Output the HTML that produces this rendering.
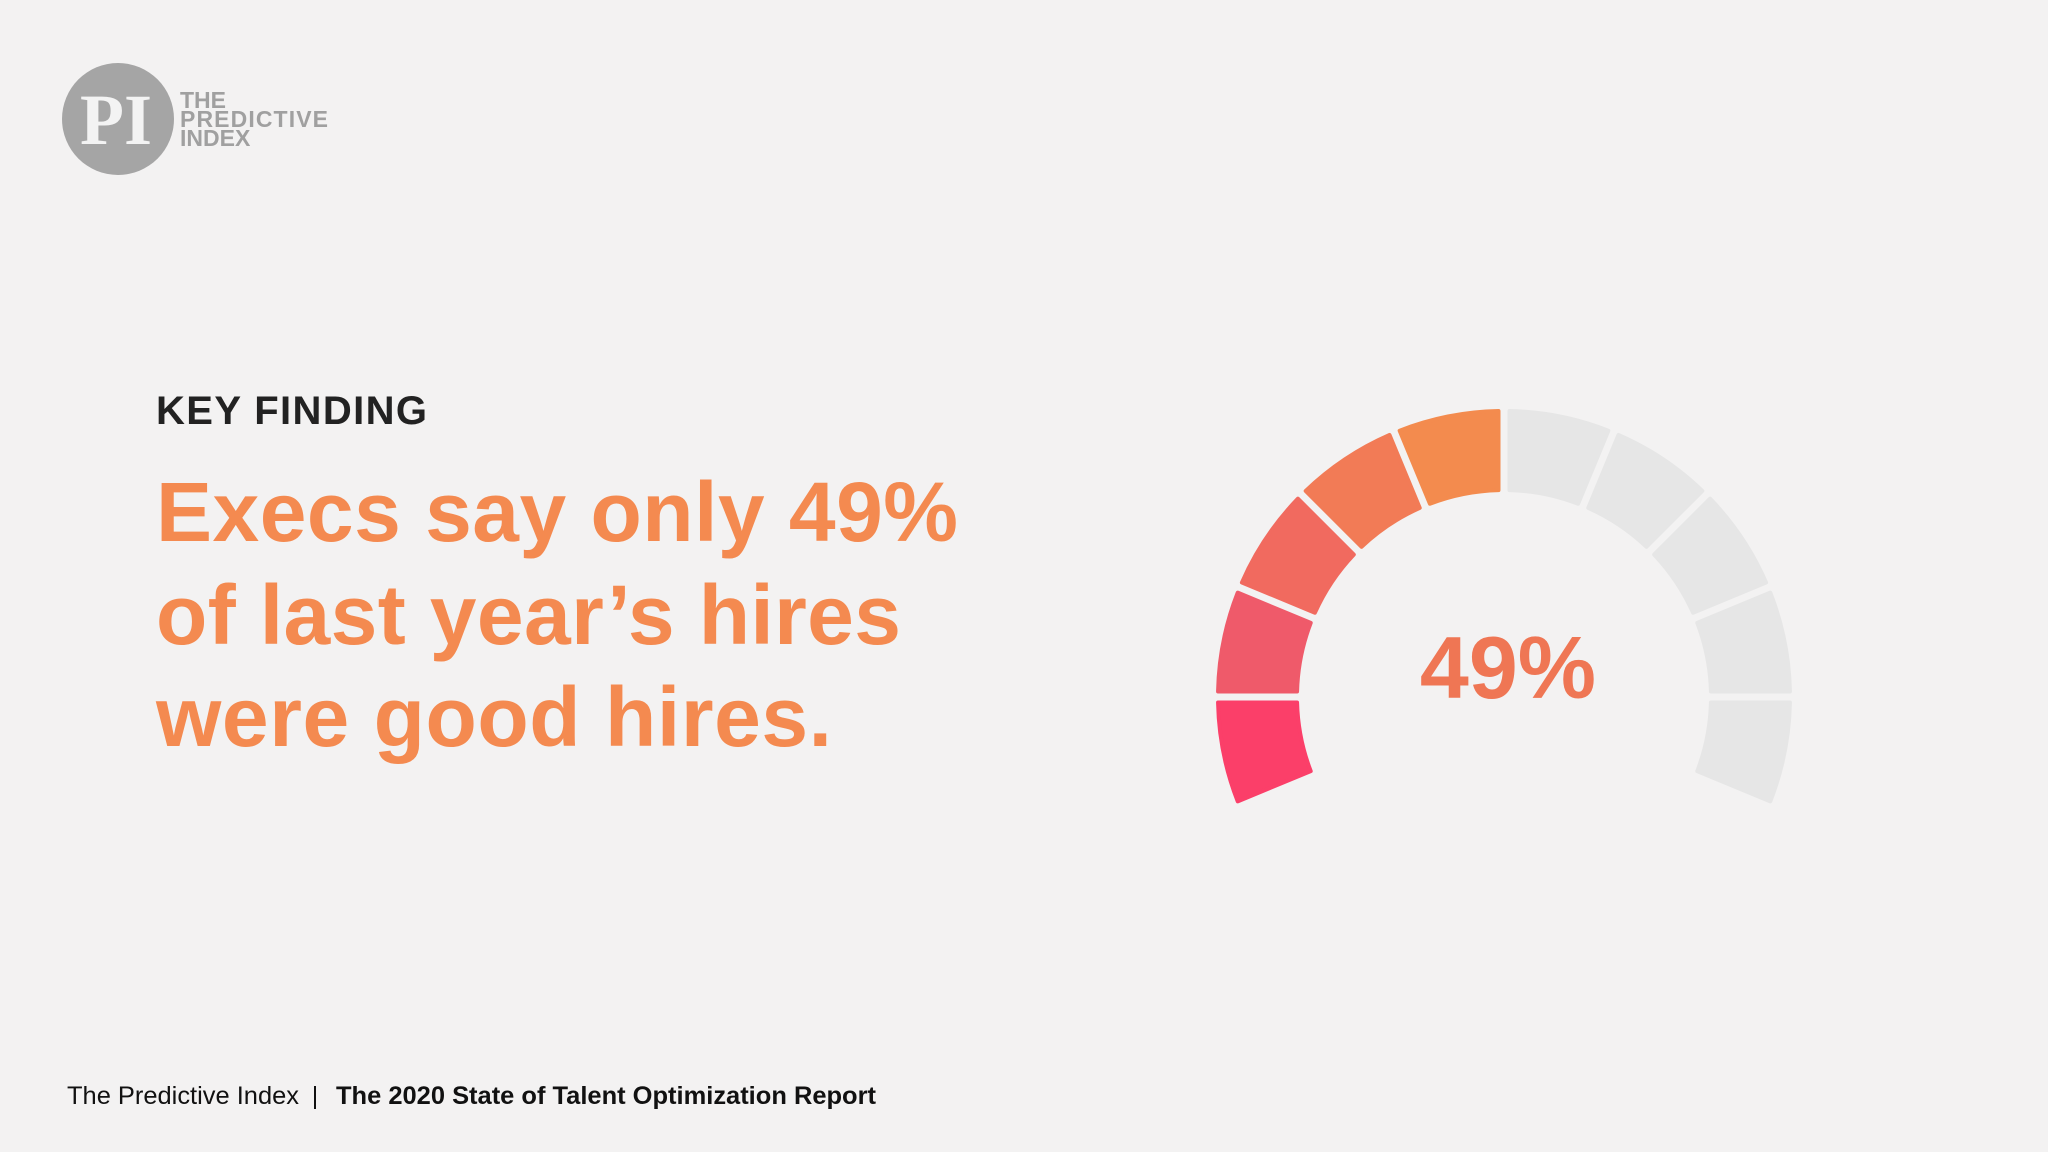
<!DOCTYPE html>
<html><head><meta charset="utf-8"><style>
html,body{margin:0;padding:0;background:#f3f2f2;}
svg{display:block;}
</style></head><body>
<svg width="2048" height="1152" viewBox="0 0 2048 1152" xmlns="http://www.w3.org/2000/svg">
<rect width="2048" height="1152" fill="#f3f2f2"/>
<g>
 <circle cx="118" cy="119" r="56" fill="#a5a5a5"/>
 <text x="116" y="144" text-anchor="middle" font-family="Liberation Serif, serif" font-weight="bold" font-size="72" fill="#f3f3f3">PI</text>
 <g font-family="Liberation Sans, sans-serif" font-weight="bold" font-size="23" fill="#a0a0a0">
  <text x="180" y="108">THE</text>
  <text x="180" y="127" textLength="148">PREDICTIVE</text>
  <text x="180" y="146">INDEX</text>
 </g>
</g>
<text x="156" y="424" textLength="271" font-family="Liberation Sans, sans-serif" font-weight="bold" font-size="40" fill="#222">KEY FINDING</text>
<g font-family="Liberation Sans, sans-serif" font-weight="bold" font-size="84" fill="#f48a50">
 <text x="156" y="541" textLength="802">Execs say only 49%</text>
 <text x="156" y="644" textLength="745">of last year’s hires</text>
 <text x="156" y="746" textLength="676">were good hires.</text>
</g>
<g id="gauge"></g>
<text id="gval" x="1508" y="698" text-anchor="middle" font-family="Liberation Sans, sans-serif" font-weight="bold" font-size="88" fill="#ef7654">49%</text>
<g font-family="Liberation Sans, sans-serif" font-size="25" fill="#111">
 <text x="67" y="1104" textLength="232" lengthAdjust="spacingAndGlyphs">The Predictive Index</text>
 <text x="315" y="1104" text-anchor="middle">|</text>
 <text x="336" y="1104" textLength="540" lengthAdjust="spacingAndGlyphs" font-weight="bold">The 2020 State of Talent Optimization Report</text>
</g>
</svg>
<script>
const gaugeValue = [49];
const segmentCount = [10];
const filledColors = ["#fb3f69","#ef5a6a","#f16a5f","#f27b56","#f38b4e","#f38b4e","#f38b4e","#f38b4e","#f38b4e","#f38b4e"];
const cx=1504, cy=697, rO=286, rI=207, startDeg=202.5, spanDeg=225, gapPx=11;
const g=document.getElementById('gauge');
const n=segmentCount[0];
const filled=Math.round(gaugeValue[0]/100*n);
const step=spanDeg/n;
function pt(r,deg){const a=deg*Math.PI/180;return [cx+r*Math.cos(a), cy-r*Math.sin(a)];}
for(let i=0;i<n;i++){
  const a0=startDeg-i*step, a1=startDeg-(i+1)*step;
  const gO=(gapPx/2)/rO*180/Math.PI, gI=(gapPx/2)/rI*180/Math.PI;
  const p1=pt(rO,a0-gO), p2=pt(rO,a1+gO), p3=pt(rI,a1+gI), p4=pt(rI,a0-gI);
  const d=`M${p1[0]},${p1[1]} A${rO},${rO} 0 0 1 ${p2[0]},${p2[1]} L${p3[0]},${p3[1]} A${rI},${rI} 0 0 0 ${p4[0]},${p4[1]} Z`;
  const p=document.createElementNS('http://www.w3.org/2000/svg','path');
  p.setAttribute('d',d);
  p.setAttribute('fill', i<filled ? filledColors[i] : '#e6e6e6');
  p.setAttribute('stroke', i<filled ? filledColors[i] : '#e6e6e6');
  p.setAttribute('stroke-width','4');
  p.setAttribute('stroke-linejoin','round');
  
  
  g.appendChild(p);
}
document.getElementById('gval').textContent=gaugeValue[0]+'%';
</script>
</body></html>
